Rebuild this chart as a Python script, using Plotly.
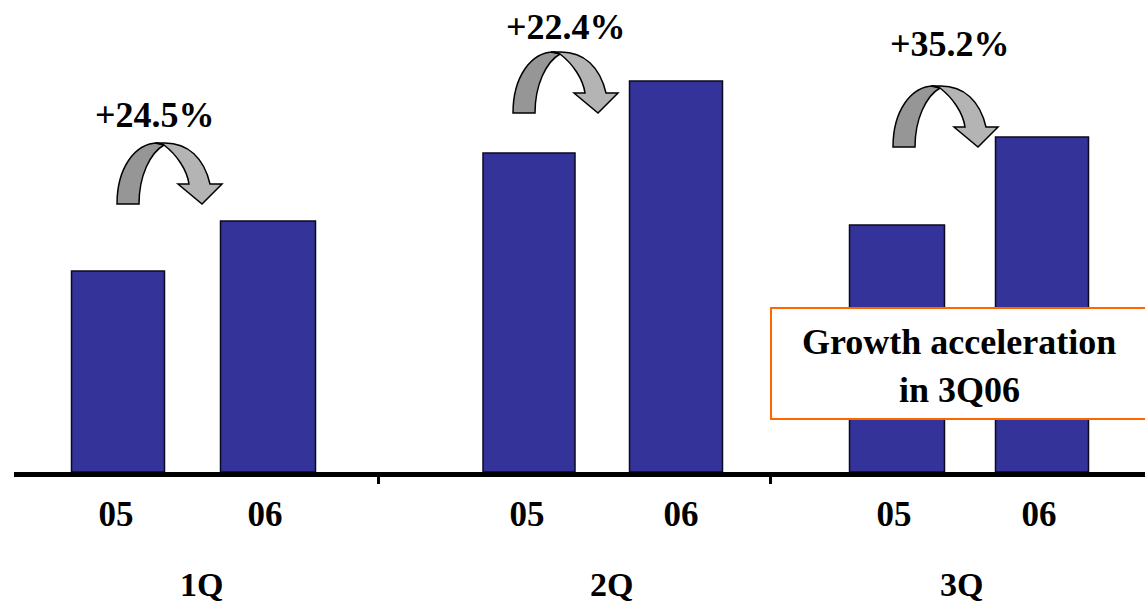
import plotly.graph_objects as go

W, H = 1145, 602
BASE = 472  # pixel row of the bars' base

# --- data ---
year_labels = ["05", "06", "05", "06", "05", "06"]
label_positions = [116, 265, 527, 681, 894, 1039]
bar_positions = [118, 268, 529, 676, 897, 1042]
bar_widths = [93, 95, 92, 93, 95, 93]
bar_values = [201, 251, 319, 391, 247, 335]
quarter_labels = ["1Q", "2Q", "3Q"]
quarter_positions = [201, 611, 961]
separator_positions = [378, 770]
growth_labels = ["+24.5%", "+22.4%", "+35.2%"]
growth_positions = [155, 566, 950]
growth_levels = [357, 445, 428]
arrow_offsets = [(0, 0), (396, -91), (776, -57)]
callout_lines = ["Growth acceleration", "in 3Q06"]

SERIF = "Liberation Serif, Times New Roman, serif"


def pt(x, y, dx, dy):
    return f"{x + dx},{BASE - (y + dy)}"


def arrow_paths(dx, dy):
    p = lambda x, y: pt(x, y, dx, dy)
    dark = (f"M{p(117,204)} C{p(117,168)} {p(135,143)} {p(158,143)} L{p(164,145)} "
            f"C{p(150,153)} {p(139,176)} {p(139,204)} Z")
    light = (f"M{p(164,145)} C{p(177,155)} {p(187,170)} {p(189,184)} L{p(178,184)} "
             f"L{p(202,204)} L{p(222,184)} L{p(210,184)} C{p(204,158)} {p(188,143)} "
             f"{p(165,143)} L{p(155,143)} L{p(164,145)} Z")
    return dark, light


fig = go.Figure(go.Bar(
    x=bar_positions, y=bar_values, width=bar_widths,
    marker=dict(color="#333399", line=dict(color="#0a0a20", width=1.5)),
    hoverinfo="skip",
))

shapes = []
for dx, dy in arrow_offsets:
    dark, light = arrow_paths(dx, dy)
    line = dict(color="#000000", width=1.5)
    shapes.append(dict(type="path", path=dark, xref="x", yref="y", fillcolor="#969696", line=line, layer="above"))
    shapes.append(dict(type="path", path=light, xref="x", yref="y", fillcolor="#B4B4B4", line=line, layer="above"))
shapes.append(dict(type="rect", xref="x", yref="y", x0=771, x1=1150, y0=BASE - 419, y1=BASE - 308,
                   fillcolor="white", line=dict(color="#FF6600", width=2), layer="above"))

annotations = []
for text, x, y in zip(growth_labels, growth_positions, growth_levels):
    annotations.append(dict(text=f"<b>{text}</b>", x=x, y=y, xref="x", yref="y", showarrow=False,
                            xanchor="center", yanchor="middle", font=dict(family=SERIF, size=36, color="black")))
for text, x in zip(quarter_labels, quarter_positions):
    annotations.append(dict(text=f"<b>{text}</b>", x=x, y=(BASE - 584) / BASE, xref="x",
                            yref="paper", showarrow=False, xanchor="center", yanchor="middle",
                            font=dict(family=SERIF, size=34, color="black")))
for text, row in zip(callout_lines, [342, 390]):
    annotations.append(dict(text=f"<b>{text}</b>", x=959, y=BASE - row, xref="x", yref="y", showarrow=False,
                            xanchor="center", yanchor="middle", font=dict(family=SERIF, size=36, color="black")))

fig.update_layout(
    width=W, height=H,
    margin=dict(l=14, r=0, t=0, b=H - BASE, pad=0),
    paper_bgcolor="white", plot_bgcolor="white",
    showlegend=False,
    shapes=shapes, annotations=annotations,
    xaxis=dict(range=[14, W], showgrid=False, zeroline=False, showline=True, linecolor="black", linewidth=5,
               tickmode="array", tickvals=label_positions, ticktext=[f"<b>{t}</b>" for t in year_labels],
               ticks="outside", ticklen=7, tickcolor="rgba(0,0,0,0)",
               tickfont=dict(family=SERIF, size=35, color="black"),
               minor=dict(tickmode="array", tickvals=separator_positions, ticks="outside", ticklen=7,
                          tickwidth=3, tickcolor="black")),
    yaxis=dict(range=[0, BASE], visible=False),
)

fig.write_html("out.html", config=dict(displayModeBar=False),
               post_script="document.body.style.margin='0';document.documentElement.style.overflow='hidden';")
